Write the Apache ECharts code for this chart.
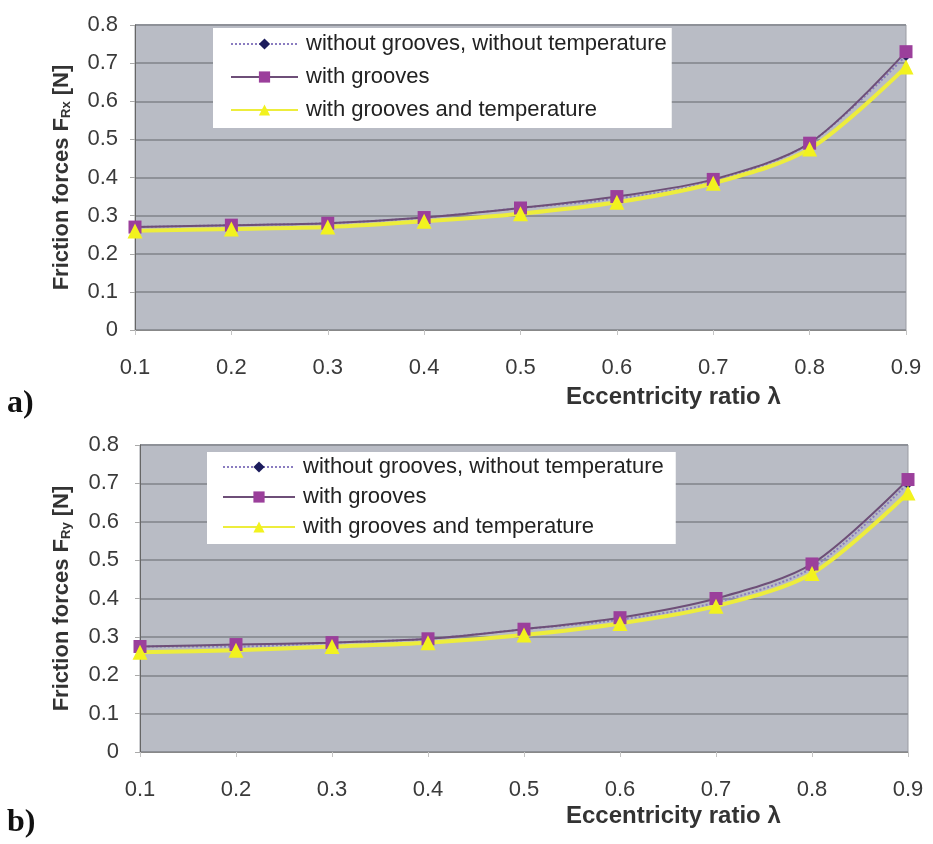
<!DOCTYPE html>
<html>
<head>
<meta charset="utf-8">
<script src="https://cdn.jsdelivr.net/npm/echarts@6/dist/echarts.min.js"></script>
<style>
  html, body { margin: 0; padding: 0; background: #fff; }
  #chartA, #chartB { position: absolute; left: 0; width: 933px; height: 422px; }
  #chartA { top: 0; }
  #chartB { top: 422px; }
</style>
</head>
<body>
<div id="chartA"></div>
<div id="chartB"></div>
<script>
// categories (eccentricity ratio)
var ratios = ['0.1', '0.2', '0.3', '0.4', '0.5', '0.6', '0.7', '0.8', '0.9'];
var seriesNames = ['without grooves, without temperature', 'with grooves', 'with grooves and temperature'];

// a) friction force F_Rx [N]
var aNoGrooves   = [0.27, 0.275, 0.28, 0.295, 0.32, 0.345, 0.39, 0.49, 0.72];
var aGrooves     = [0.27, 0.275, 0.28, 0.295, 0.32, 0.35, 0.395, 0.49, 0.73];
var aGroovesTemp = [0.26, 0.265, 0.27, 0.285, 0.305, 0.335, 0.385, 0.475, 0.69];

// b) friction force F_Ry [N]
var bNoGrooves   = [0.275, 0.275, 0.285, 0.295, 0.32, 0.345, 0.39, 0.48, 0.70];
var bGrooves     = [0.275, 0.28, 0.285, 0.295, 0.32, 0.35, 0.40, 0.49, 0.71];
var bGroovesTemp = [0.26, 0.265, 0.275, 0.285, 0.305, 0.335, 0.38, 0.465, 0.675];

var font = 'Liberation Sans, Arial, sans-serif';

// builds the options of one panel
function panel(cfg) {
    return {
        animation: false,
        grid: {
            left: cfg.left, top: cfg.top, width: cfg.width, height: cfg.height,
            show: true,
            backgroundColor: '#b9bcc5',
            borderColor: '#9a9ca3',
            borderWidth: 1
        },
        legend: {
            orient: 'vertical',
            left: cfg.legendLeft,
            top: cfg.legendTop,
            backgroundColor: '#ffffff',
            padding: cfg.legendPadding,
            itemWidth: cfg.iconWidth,
            itemHeight: 14,
            itemGap: cfg.legendGap,
            textStyle: { fontFamily: font, fontSize: 22, color: '#222', lineHeight: 22, padding: [0, 0, 0, 3] },
            data: seriesNames
        },
        xAxis: {
            type: 'category',
            boundaryGap: false,
            data: ratios,
            axisLine: { lineStyle: { color: '#888', width: 1 } },
            axisTick: { show: true, lineStyle: { color: '#c4c4c4' } },
            axisLabel: { fontFamily: font, fontSize: 22, color: '#3a3a3a', margin: 27 },
            splitLine: { show: false }
        },
        yAxis: {
            type: 'value',
            min: 0,
            max: 0.8,
            interval: 0.1,
            name: cfg.yName,
            nameLocation: 'middle',
            nameGap: cfg.nameGap,
            nameTextStyle: {
                fontFamily: font, fontSize: 22, fontWeight: 'bold', color: '#333',
                rich: { sub: { fontFamily: font, fontSize: 13, fontWeight: 'bold', color: '#333', verticalAlign: 'bottom', padding: [7, 0, 0, 0] } }
            },
            axisLine: { show: true, lineStyle: { color: '#666', width: 1 } },
            axisTick: { show: true, lineStyle: { color: '#aaa' } },
            axisLabel: { fontFamily: font, fontSize: 22, color: '#3a3a3a', margin: cfg.yMargin },
            splitLine: { show: true, lineStyle: { color: '#8e9198', width: 2 } }
        },
        graphic: [
            { type: 'text', left: 566, top: cfg.xTitleTop,
              style: { text: 'Eccentricity ratio λ', fontFamily: font, fontSize: 24, fontWeight: 'bold', fill: '#333' } },
            { type: 'text', left: 7, top: cfg.tagTop,
              style: { text: cfg.tag, fontFamily: 'Liberation Serif, Times New Roman, serif', fontSize: 32, fontWeight: 'bold', fill: '#111' } }
        ],
        series: [
            {
                name: seriesNames[0], type: 'line', data: cfg.s1, smooth: 0.3,
                symbol: 'diamond', symbolSize: 11,
                itemStyle: { color: '#1c1c5c' },
                lineStyle: { color: '#8a7cc0', width: 2, type: 'dotted' }
            },
            {
                name: seriesNames[1], type: 'line', data: cfg.s2, smooth: 0.3,
                symbol: 'rect', symbolSize: 13,
                itemStyle: { color: '#9b3f9b' },
                lineStyle: { color: '#6e4f78', width: 2 }
            },
            {
                name: seriesNames[2], type: 'line', data: cfg.s3, smooth: 0.3,
                symbol: 'triangle', symbolSize: 15,
                itemStyle: { color: '#f2f21e' },
                lineStyle: { color: '#eded3c', width: 4 }
            }
        ]
    };
}

var chartA = echarts.init(document.getElementById('chartA'));
chartA.setOption(panel({
    left: 135, top: 25, width: 771, height: 305,
    legendLeft: 213, legendTop: 28, legendPadding: [5, 5, 7, 17], legendGap: 11, iconWidth: 67,
    yName: 'Friction forces F{sub|Rx} [N]', nameGap: 62, yMargin: 17,
    xTitleTop: 385, tag: 'a)', tagTop: 388,
    s1: aNoGrooves, s2: aGrooves, s3: aGroovesTemp
}));

var chartB = echarts.init(document.getElementById('chartB'));
chartB.setOption(panel({
    left: 140, top: 23, width: 768, height: 307,
    legendLeft: 207, legendTop: 30, legendPadding: [4, 12, 6, 15], legendGap: 8, iconWidth: 72,
    yName: 'Friction forces F{sub|Ry} [N]', nameGap: 67, yMargin: 21,
    xTitleTop: 382, tag: 'b)', tagTop: 385,
    s1: bNoGrooves, s2: bGrooves, s3: bGroovesTemp
}));
</script>
</body>
</html>
